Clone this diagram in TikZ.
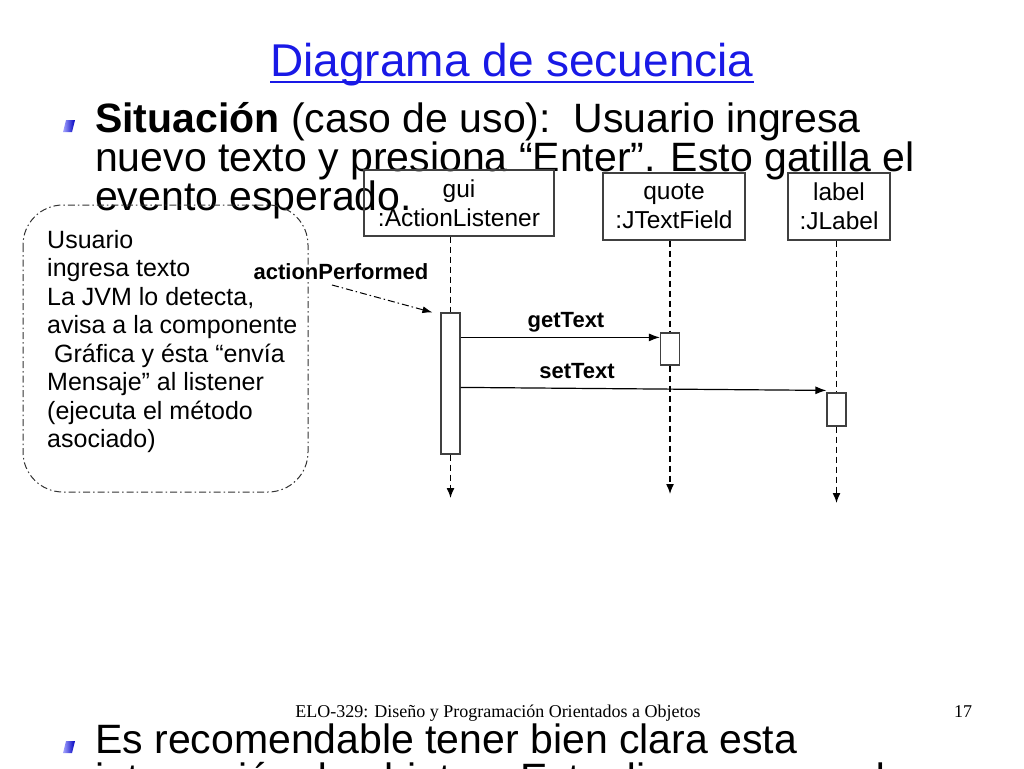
\documentclass[tikz,border=0pt]{standalone}
\usepackage{fontspec}
\setmainfont{Liberation Sans}
\newfontfamily\footfont{Liberation Serif}
\usetikzlibrary{arrows.meta}
\definecolor{titleblue}{RGB}{25,25,230}
\tikzset{
  objbox/.style={draw=black!75, line width=1.3pt, minimum height=67pt, align=center, inner sep=0pt,
    font=\fontsize{24.5}{29}\selectfont},
  actbox/.style={draw=black!75, line width=1.2pt, fill=white, minimum width=19pt, inner sep=0pt},
  life/.style={line width=1.4pt, dash pattern=on 6pt off 4pt},
  lifeend/.style={life, -{Latex[length=10pt,width=8pt]}},
  msg/.style={line width=1.2pt, -{Latex[length=11pt,width=8pt]}},
  msglabel/.style={inner sep=0pt, font=\bfseries\fontsize{22}{26}\selectfont},
  event/.style={line width=1pt, dash pattern=on 7pt off 3pt on 1.5pt off 3pt, -{Latex[length=10pt,width=7pt]}},
  note/.style={draw=black!80, line width=1pt, dash pattern=on 7pt off 3pt on 1.5pt off 3pt, rounded corners=40pt},
  bigtext/.style={anchor=base west, align=left, inner sep=0pt, font=\fontsize{41}{39}\selectfont}
}
\begin{document}
\begin{tikzpicture}[x=1pt, y=-1pt]
\useasboundingbox (0,0) rectangle (1024,768);
\clip (0,0) rectangle (1024,768);

% title and bullets (multi-line nodes sit on their last baseline)
\node[anchor=base, inner sep=0pt, text=titleblue, font=\fontsize{46}{50}\selectfont] (title) at (512,77) {Diagrama de secuencia};
\draw[titleblue, line width=2pt] ([yshift=-5pt]title.base west) -- ([yshift=-5pt]title.base east);

\foreach \by in {132,753} {
  \shade[left color=blue!35!white, right color=blue!75!black] (63,\by) -- (66,{\by-12}) -- (75,{\by-12}) -- (72,\by) -- cycle;
}

\node[bigtext] (situ) at (95,210) {\textbf{Situación} (caso de uso):\ \ Usuario ingresa\\nuevo texto y presiona “Enter”. Esto gatilla el\\evento esperado.};
\node[bigtext] (recom) at (95,792) {Es recomendable tener bien clara esta\\interacción de objetos. Este diagrama ayuda};

% objects
\node[objbox, minimum width=190pt, minimum height=66pt] (gui) at (459,203) {gui\\:ActionListener};
\node[objbox, minimum width=142pt] (quote) at (674,206.5) {quote\\:JTextField};
\node[objbox, minimum width=102pt] (label) at (839,206.5) {label\\:JLabel};

\node[actbox, minimum height=141pt] (guiact) at (450.5,383.5) {};
\node[actbox, minimum height=32pt] (quoteact) at (670,349) {};
\node[actbox, minimum height=33pt] (labelact) at (836.5,409.5) {};

\coordinate (guiend) at (450.5,498);
\coordinate (quoteend) at (670,494);
\coordinate (labelend) at (836.5,503);

\draw[life] (guiact |- gui.south) -- (guiact.north);
\draw[lifeend] (guiact.south) -- (guiend);
\draw[life] (quoteact |- quote.south) -- (quoteact.north);
\draw[lifeend] (quoteact.south) -- (quoteend);
\draw[life] (labelact |- label.south) -- (labelact.north);
\draw[lifeend] (labelact.south) -- (labelend);

% messages
\coordinate (gt) at ([yshift=-25pt]guiact.north east);
\draw[msg] (gt) -- (gt -| quoteact.west);
\node[msglabel, anchor=base] (gettext) at (566,327) {getText};
\draw[msg] ([yshift=-75pt]guiact.north east) -- ([yshift=2pt]labelact.north west);
\node[msglabel, anchor=base] (settext) at (577,378) {setText};

\node[msglabel, anchor=base] (actperf) at (341,279) {actionPerformed};
\coordinate (evstart) at (332,285);
\draw[event] (evstart) -- ([xshift=-8pt]guiact.north west);

% note
\draw[note] (23,205) rectangle (308,492);
\node[anchor=base west, align=left, inner sep=0pt, font=\fontsize{25}{28.5}\selectfont] (jvmtext) at (47,447.5)
  {Usuario\\ingresa texto\\La JVM lo detecta,\\avisa a la componente\\\ Gráfica y ésta “envía\\Mensaje” al listener\\(ejecuta el método\\asociado)};

% footer
\node[anchor=base, inner sep=0pt, font=\footfont\fontsize{18}{20}\selectfont] (foot) at (498,717) {ELO-329: Diseño y Programación Orientados a Objetos};
\node[anchor=base, inner sep=0pt, font=\footfont\fontsize{18}{20}\selectfont] (pagenum) at (963,717) {17};
\end{tikzpicture}
\end{document}
